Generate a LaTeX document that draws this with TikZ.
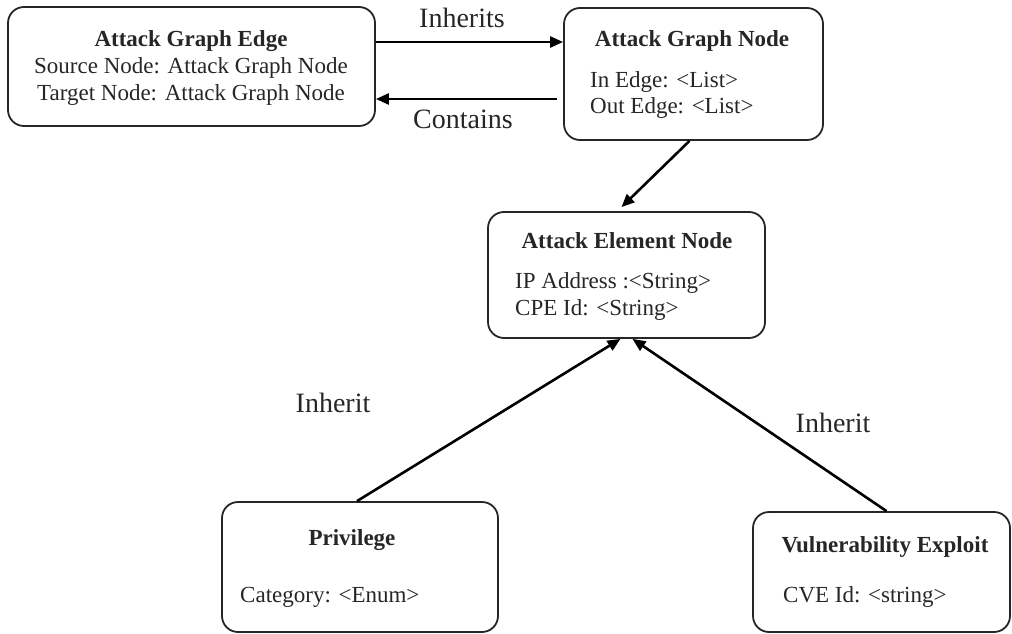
\documentclass[tikz,border=0pt]{standalone}
\usepackage{fontspec}
\setmainfont{Liberation Serif}
\usetikzlibrary{arrows.meta,calc}
\begin{document}
\begin{tikzpicture}[x=1pt,y=-1pt,
  box/.style={draw=black!85,line width=1.8pt,rounded corners=16pt,inner sep=0pt},
  txt/.style={inner sep=0pt,font=\fontsize{23}{27}\selectfont,text=black!85},
  lbl/.style={inner sep=0pt,font=\fontsize{28}{32}\selectfont,text=black!85,anchor=base},
  conn/.style={draw=black,line width=2.6pt,-{Triangle[length=13pt,width=11pt]}}]
\useasboundingbox (0,0) rectangle (1012,634);
% boxes
\node[box,minimum width=367pt,minimum height=119pt] (edge) at (191.5,66.5) {};
\node[box,minimum width=259pt,minimum height=132pt] (gnode) at (693.5,74) {};
\node[box,minimum width=277pt,minimum height=126pt] (elem) at (626.5,275) {};
\node[box,minimum width=276pt,minimum height=130pt] (priv) at (360,567) {};
\node[box,minimum width=257pt,minimum height=120pt] (vuln) at (881.5,572) {};
% texts
\node[txt,anchor=base] (edgeT) at (191,47) {\bfseries Attack Graph Edge};
\node[txt,anchor=base] (edgeA) at (191,74) {Source Node: Attack Graph Node};
\node[txt,anchor=base] (edgeB) at (191,100) {Target Node: Attack Graph Node};
\node[txt,anchor=base] (gnodeT) at (692,47) {\bfseries Attack Graph Node};
\node[txt,anchor=base west] (gnodeA) at (590,88) {In Edge: <List>};
\node[txt,anchor=base west] (gnodeB) at (590,113) {Out Edge: <List>};
\node[txt,anchor=base] (elemT) at (627,248) {\bfseries Attack Element Node};
\node[txt,anchor=base west] (elemA) at (515,288) {IP Address :<String>};
\node[txt,anchor=base west] (elemB) at (515,315) {CPE Id: <String>};
\node[txt,anchor=base] (privT) at (352,545) {\bfseries Privilege};
\node[txt,anchor=base west] (privA) at (240,602) {Category: <Enum>};
\node[txt,anchor=base] (vulnT) at (885,552) {\bfseries Vulnerability Exploit};
\node[txt,anchor=base west] (vulnA) at (783,602) {CVE Id: <string>};
% helper coordinates
\coordinate (ia) at (0,42);
\coordinate (ca) at (0,99);
% connectors
\draw[conn] (edge.east |- ia) -- (gnode.west |- ia);
\draw[conn] ($(gnode.west |- ca)+(-6,0)$) -- (edge.east |- ca);
\draw[conn] ($(gnode.south)+(-4,0)$) -- ($(elem.north)+(-5,-4)$);
\draw[conn] ($(priv.north)+(-3,0)$) -- ($(elem.south)+(-6,0)$);
\draw[conn] ($(vuln.north)+(5,0)$) -- ($(elem.south)+(6,0)$);
% labels
\node[lbl] (l1) at (462,28) {Inherits};
\node[lbl] (l2) at (463,128) {Contains};
\node[lbl] (l3) at (333,412) {Inherit};
\node[lbl] (l4) at (833,432) {Inherit};
\end{tikzpicture}
\end{document}
